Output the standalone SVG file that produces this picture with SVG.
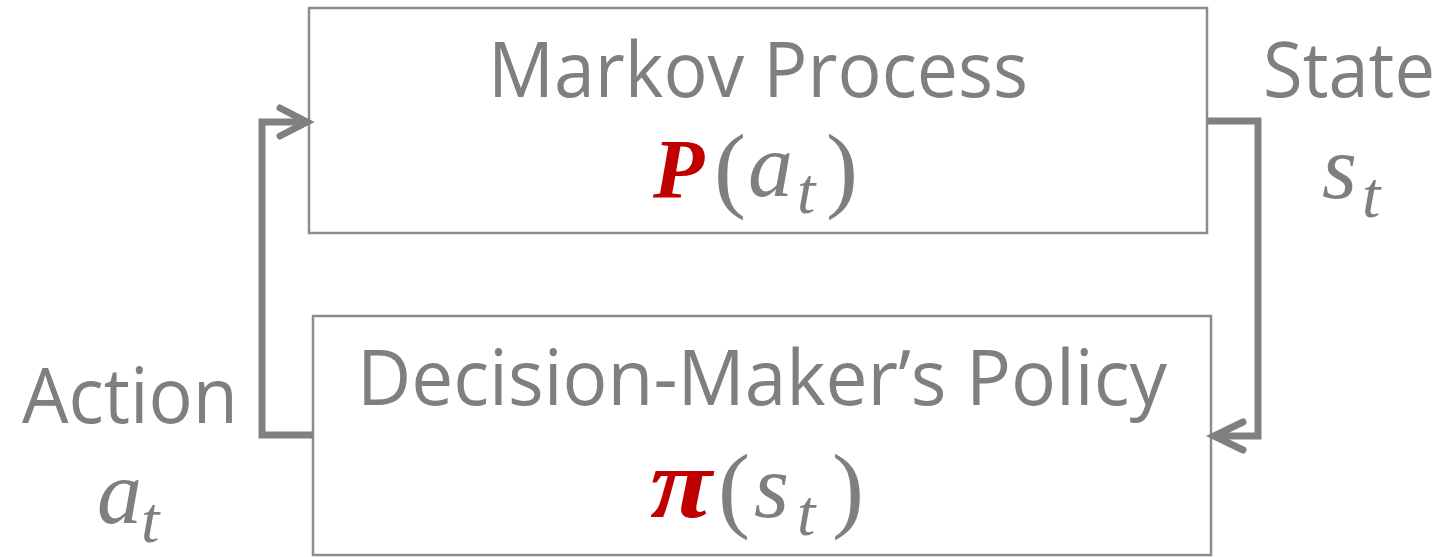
<svg xmlns="http://www.w3.org/2000/svg" width="1445" height="557" viewBox="0 0 1445 557">
<style>
.box{fill:#fff;stroke:#8c8c8c;stroke-width:2.5}
.lbl{font-family:"Open Sans","Liberation Sans",sans-serif;fill:#7f7f7f;font-size:76px}
.m{font-family:"Liberation Serif","DejaVu Serif",serif;font-style:italic;fill:#7f7f7f}
.r{font-family:"Liberation Serif","DejaVu Serif",serif;fill:#7f7f7f}
.red{font-family:"Liberation Serif","DejaVu Serif",serif;font-style:italic;font-weight:bold;fill:#c00000}
.conn{fill:none;stroke:#808080;stroke-width:7}
.head{fill:none;stroke:#808080;stroke-width:7;stroke-linecap:round;stroke-linejoin:miter}
</style>
<g id="markov">
<rect class="box" x="309" y="8" width="898" height="225"/>
<text class="lbl" x="758" y="97" text-anchor="middle" textLength="540" lengthAdjust="spacingAndGlyphs">Markov Process</text>
<text class="red" x="653" y="198" font-size="84">P</text>
<text class="r" x="714" y="200" font-size="96">(</text>
<text class="m" x="748" y="196" font-size="90">a</text>
<text class="m" x="797" y="213" font-size="66">t</text>
<text class="r" x="826" y="200" font-size="96">)</text>
</g>
<g id="policy">
<rect class="box" x="313" y="316" width="898" height="239"/>
<text class="lbl" x="762" y="405" text-anchor="middle" textLength="810" lengthAdjust="spacingAndGlyphs">Decision-Maker’s Policy</text>
<text class="red" x="650" y="517" font-size="100" textLength="62" lengthAdjust="spacingAndGlyphs">π</text>
<text class="r" x="718" y="520" font-size="96">(</text>
<text class="m" x="754" y="517" font-size="90">s</text>
<text class="m" x="797" y="535" font-size="66">t</text>
<text class="r" x="832" y="520" font-size="96">)</text>
</g>
<g id="state-label">
<text class="lbl" x="1263" y="97" textLength="172" lengthAdjust="spacingAndGlyphs">State</text>
<text class="m" x="1322" y="198" font-size="90">s</text>
<text class="m" x="1362" y="217" font-size="66">t</text>
</g>
<g id="action-label">
<text class="lbl" x="22" y="423" textLength="216" lengthAdjust="spacingAndGlyphs">Action</text>
<text class="m" x="97" y="523" font-size="90">a</text>
<text class="m" x="141" y="542" font-size="66">t</text>
</g>
<g id="connectors">
<path class="conn" d="M313 435 H262 V122 H306"/>
<path class="head" d="M280 108 L307 122 L280 136"/>
<path class="conn" d="M1207 121 H1258 V436 H1214"/>
<path class="head" d="M1243 422 L1214 436 L1243 450"/>
</g>
</svg>
